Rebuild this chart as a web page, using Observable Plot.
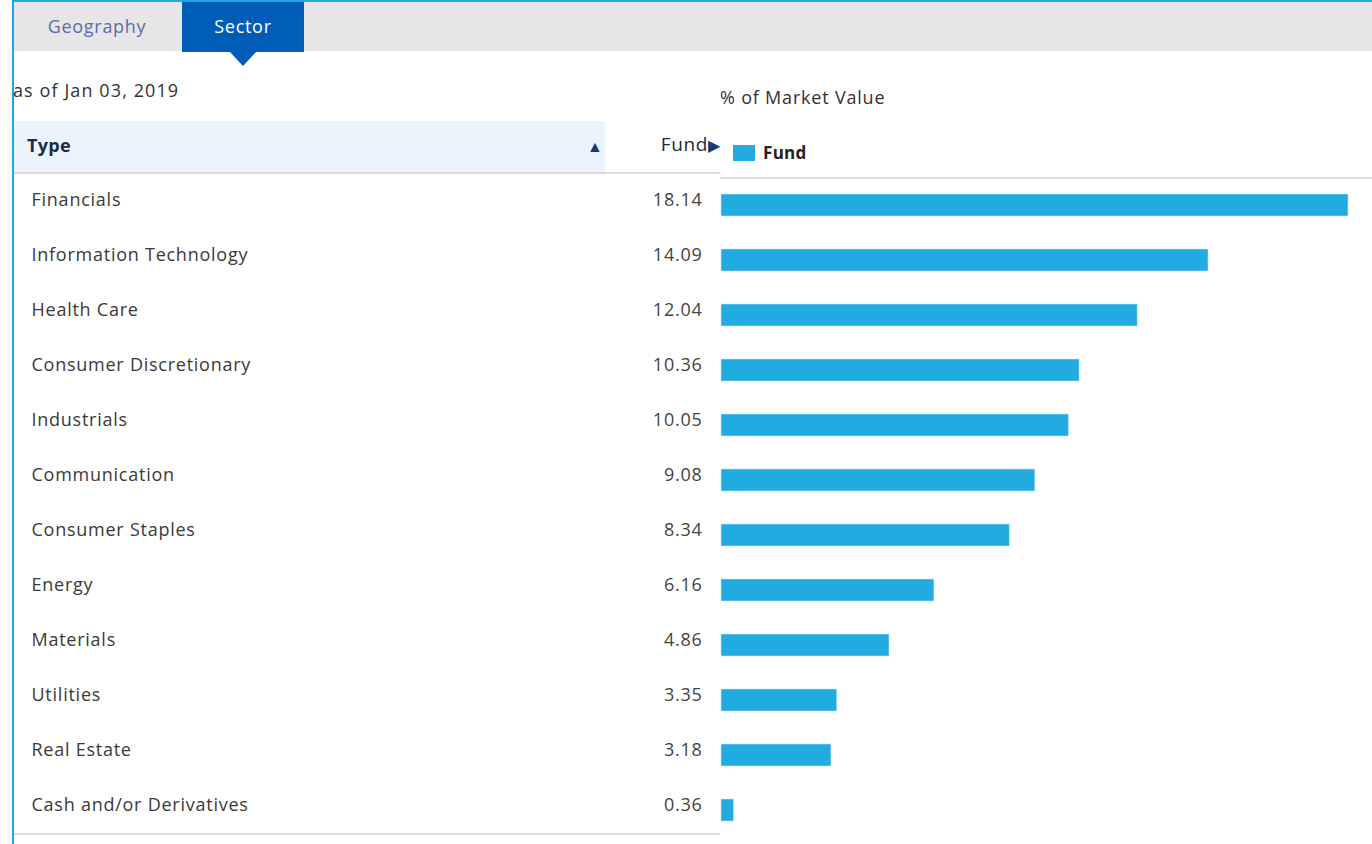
<!DOCTYPE html>
<html>
<head>
<meta charset="utf-8">
<script src="https://cdn.jsdelivr.net/npm/d3@7"></script>
<script src="https://cdn.jsdelivr.net/npm/@observablehq/plot@0.6"></script>
<style>
  html, body { margin: 0; padding: 0; background: #fff; }
  body { width: 1372px; height: 844px; overflow: hidden; font-family: "Open Sans", sans-serif; letter-spacing: 0.7px; }
  #wrap { position: relative; width: 1372px; height: 844px; }
  .abs { position: absolute; white-space: nowrap; }
  #chart { position: absolute; left: 0; top: 172px; }
  #chart svg text { letter-spacing: 0.75px; }
</style>
</head>
<body>
<div id="wrap">
  <div class="abs" style="left:12px;top:0;width:2px;height:844px;background:#1fa8e3;"></div>
  <div class="abs" style="left:12px;top:0;width:1360px;height:2px;background:#1fa8e3;"></div>
  <div class="abs" style="left:14px;top:2px;width:1358px;height:49px;background:#e6e6e6;"></div>
  <div class="abs" style="left:14px;top:2px;width:166px;height:49px;line-height:49px;text-align:center;color:#5a6ea8;font-size:18px;">Geography</div>
  <div class="abs" style="left:182px;top:2px;width:122px;height:50px;line-height:49px;text-align:center;background:#005db7;color:#fff;font-size:18px;">Sector</div>
  <div class="abs" style="left:230px;top:52px;width:0;height:0;border-left:13px solid transparent;border-right:13px solid transparent;border-top:14px solid #005db7;"></div>
  <div class="abs" style="left:13px;top:78px;color:#333;font-size:18px;letter-spacing:1.1px;">as of Jan 03, 2019</div>
  <div class="abs" style="left:720px;top:85px;color:#333;font-size:18px;letter-spacing:0.8px;">% of Market Value</div>
  <div class="abs" style="left:14px;top:121px;width:591px;height:51px;background:#ebf4fc;"></div>
  <div class="abs" style="left:27px;top:133px;color:#1b2b45;font-size:18px;font-weight:bold;letter-spacing:0.3px;">Type</div>
  <div class="abs" style="left:587px;top:135px;color:#183a6c;font-size:16px;">▲</div>
  <div class="abs" style="left:600px;top:131px;width:120px;text-align:right;color:#1b2b45;font-size:19px;letter-spacing:0.6px;">Fund<span style="color:#183a6c;font-size:16px;letter-spacing:0;">▶</span></div>
  <div class="abs" style="left:14px;top:172px;width:706px;height:2px;background:#dcdcdc;"></div>
  <div class="abs" style="left:733px;top:145px;width:22px;height:16px;background:#22abe0;"></div>
  <div class="abs" style="left:763px;top:141px;color:#222;font-size:17px;font-weight:bold;letter-spacing:0.3px;">Fund</div>
  <div class="abs" style="left:720px;top:177px;width:652px;height:2px;background:#dcdcdc;"></div>
  <div class="abs" style="left:14px;top:833px;width:706px;height:2px;background:#dcdcdc;"></div>
  <div id="chart"></div>
</div>
<script>
const sectors = ["Financials", "Information Technology", "Health Care", "Consumer Discretionary", "Industrials", "Communication", "Consumer Staples", "Energy", "Materials", "Utilities", "Real Estate", "Cash and/or Derivatives"];
const fundValues = [18.14, 14.09, 12.04, 10.36, 10.05, 9.08, 8.34, 6.16, 4.86, 3.35, 3.18, 0.36];
const valueLabels = ["18.14", "14.09", "12.04", "10.36", "10.05", "9.08", "8.34", "6.16", "4.86", "3.35", "3.18", "0.36"];

const rows = sectors.map((s, i) => ({sector: s, value: fundValues[i], label: valueLabels[i]}));

const chart = Plot.plot({
  width: 1372,
  height: 660,
  marginLeft: 721,
  marginRight: 24,
  marginTop: 0,
  marginBottom: 0,
  style: {fontFamily: "'Open Sans', sans-serif", background: "transparent", overflow: "visible"},
  x: {domain: [0, d3.max(fundValues)], axis: null},
  y: {domain: sectors, axis: null, paddingInner: 0.6, paddingOuter: 0.3, align: 0.5},
  marks: [
    Plot.barX(rows, {x: "value", y: "sector", dy: 5, fill: "#22abe0", stroke: "#c4e8f7", strokeWidth: 0.6}),
    Plot.text(rows, {y: "sector", text: "sector", frameAnchor: "left", dx: -690, textAnchor: "start", fontSize: 18, fill: "#3a3a3a"}),
    Plot.text(rows, {y: "sector", text: "label", frameAnchor: "left", dx: -19, textAnchor: "end", fontSize: 18, fill: "#444"})
  ]
});
document.getElementById("chart").appendChild(chart);
</script>
</body>
</html>
